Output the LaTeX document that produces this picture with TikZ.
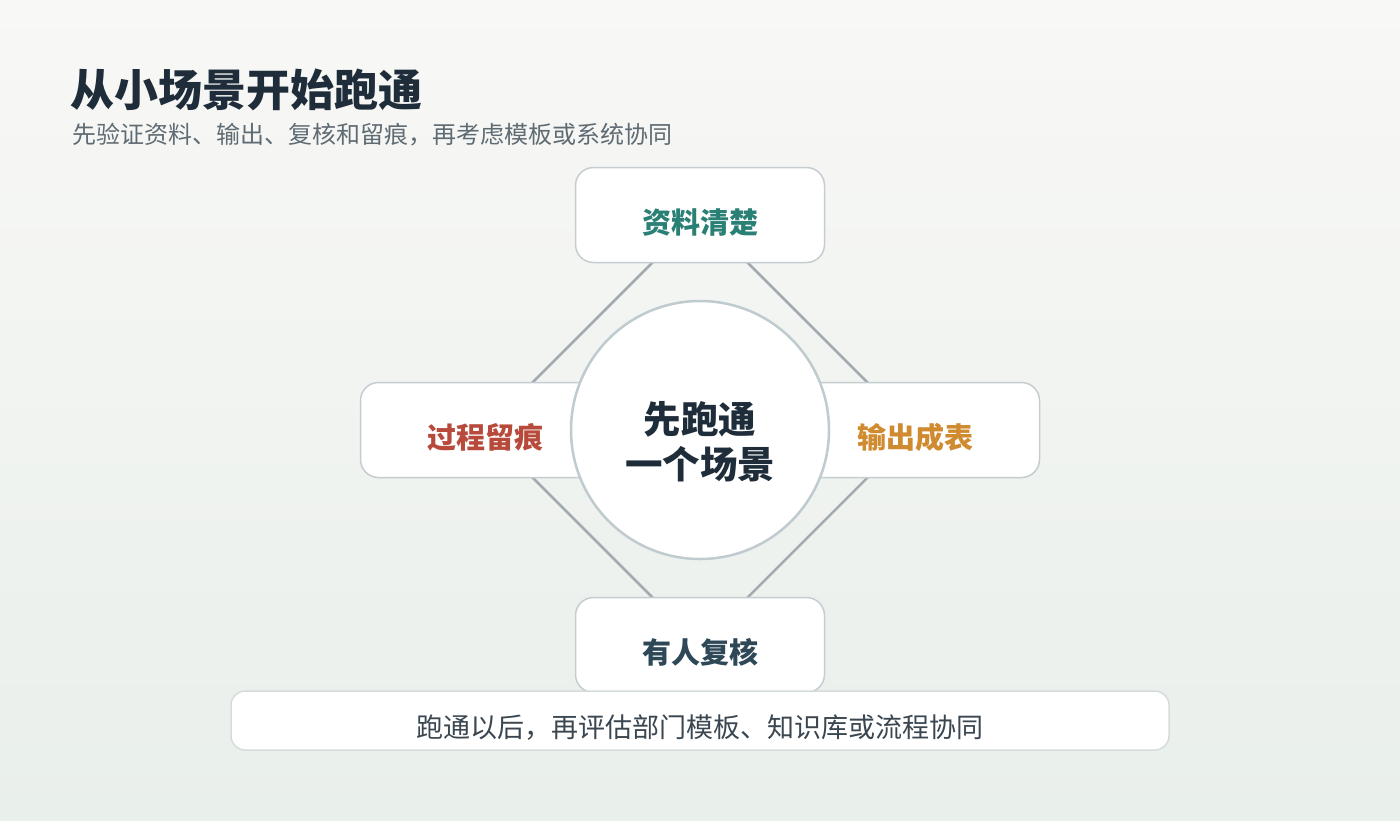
\documentclass[tikz,border=0pt]{standalone}
\usepackage{fontspec}
\setmainfont{Noto Sans CJK SC}
\usepackage{tikz}
\usetikzlibrary{positioning, backgrounds}
\definecolor{bgtop}{HTML}{F8F8F6}
\definecolor{bgbot}{HTML}{E9EFEB}
\definecolor{inkdark}{HTML}{1F2D3A}
\definecolor{inkgray}{HTML}{5F6B73}
\definecolor{inkbody}{HTML}{3A4650}
\definecolor{teal}{HTML}{2A8075}
\definecolor{brick}{HTML}{B84A3C}
\definecolor{amber}{HTML}{D08A30}
\definecolor{slate}{HTML}{2F4858}
\definecolor{cardline}{HTML}{C5CDD0}
\definecolor{ringline}{HTML}{BFCBCE}
\definecolor{linkline}{HTML}{A3ABB0}
\definecolor{bannerline}{HTML}{D5DCDC}
\pgfdeclarelayer{links}
\pgfsetlayers{background,links,main}
\tikzstyle{card}=[shape=rectangle,rounded corners=18pt,draw=cardline,line width=1.5pt,fill=white,minimum width=249pt,minimum height=95pt,font=\fontsize{29}{34}\selectfont\bfseries,text height=36pt,text depth=0pt]
\tikzstyle{hub}=[shape=circle,draw=ringline,line width=2.5pt,fill=white,minimum size=258pt,inner sep=0pt,align=center,text=inkdark,font=\fontsize{37.5}{45}\selectfont\bfseries,text height=96pt,text depth=0pt]
\tikzstyle{banner}=[shape=rectangle,rounded corners=14pt,draw=bannerline,line width=1.5pt,fill=white,minimum width=938pt,minimum height=59pt,text=inkbody,font=\fontsize{27}{32}\selectfont,text height=34pt,text depth=0pt]
\tikzstyle{link}=[draw=linkline,line width=2.5pt]
\begin{document}
\begin{tikzpicture}[x=1pt,y=-1pt]
\useasboundingbox (0,0) rectangle (1400,820);
\begin{scope}[on background layer]
\shade[top color=bgtop,bottom color=bgbot] (0,0) rectangle (1400,820);
\end{scope}

% heading
\node[anchor=west,inner sep=0pt,text=inkdark,font=\fontsize{44}{50}\selectfont\bfseries] (title) at (70,90) {从小场景开始跑通};
\node[anchor=west,inner sep=0pt,text=inkgray,font=\fontsize{24}{28}\selectfont] (subtitle) at (72,135) {先验证资料、输出、复核和留痕，再考虑模板或系统协同};

% four cards
\node[card,text=teal]  (c_top)   at (700,215) {资料清楚};
\node[card,text=brick] (c_left)  at (485,430) {过程留痕};
\node[card,text=amber] (c_right) at (915,430) {输出成表};
\node[card,text=slate] (c_bot)   at (700,645) {有人复核};

% diamond links
\begin{pgfonlayer}{links}
\draw[link] (c_top.center) -- (c_left.center) -- (c_bot.center) -- (c_right.center) -- (c_top.center);
\end{pgfonlayer}

% centre
\node[hub] (hub) at (700,430) {先跑通\\一个场景};

% footer
\node[banner] (footer) at (700,720.5) {跑通以后，再评估部门模板、知识库或流程协同};

\end{tikzpicture}
\end{document}
